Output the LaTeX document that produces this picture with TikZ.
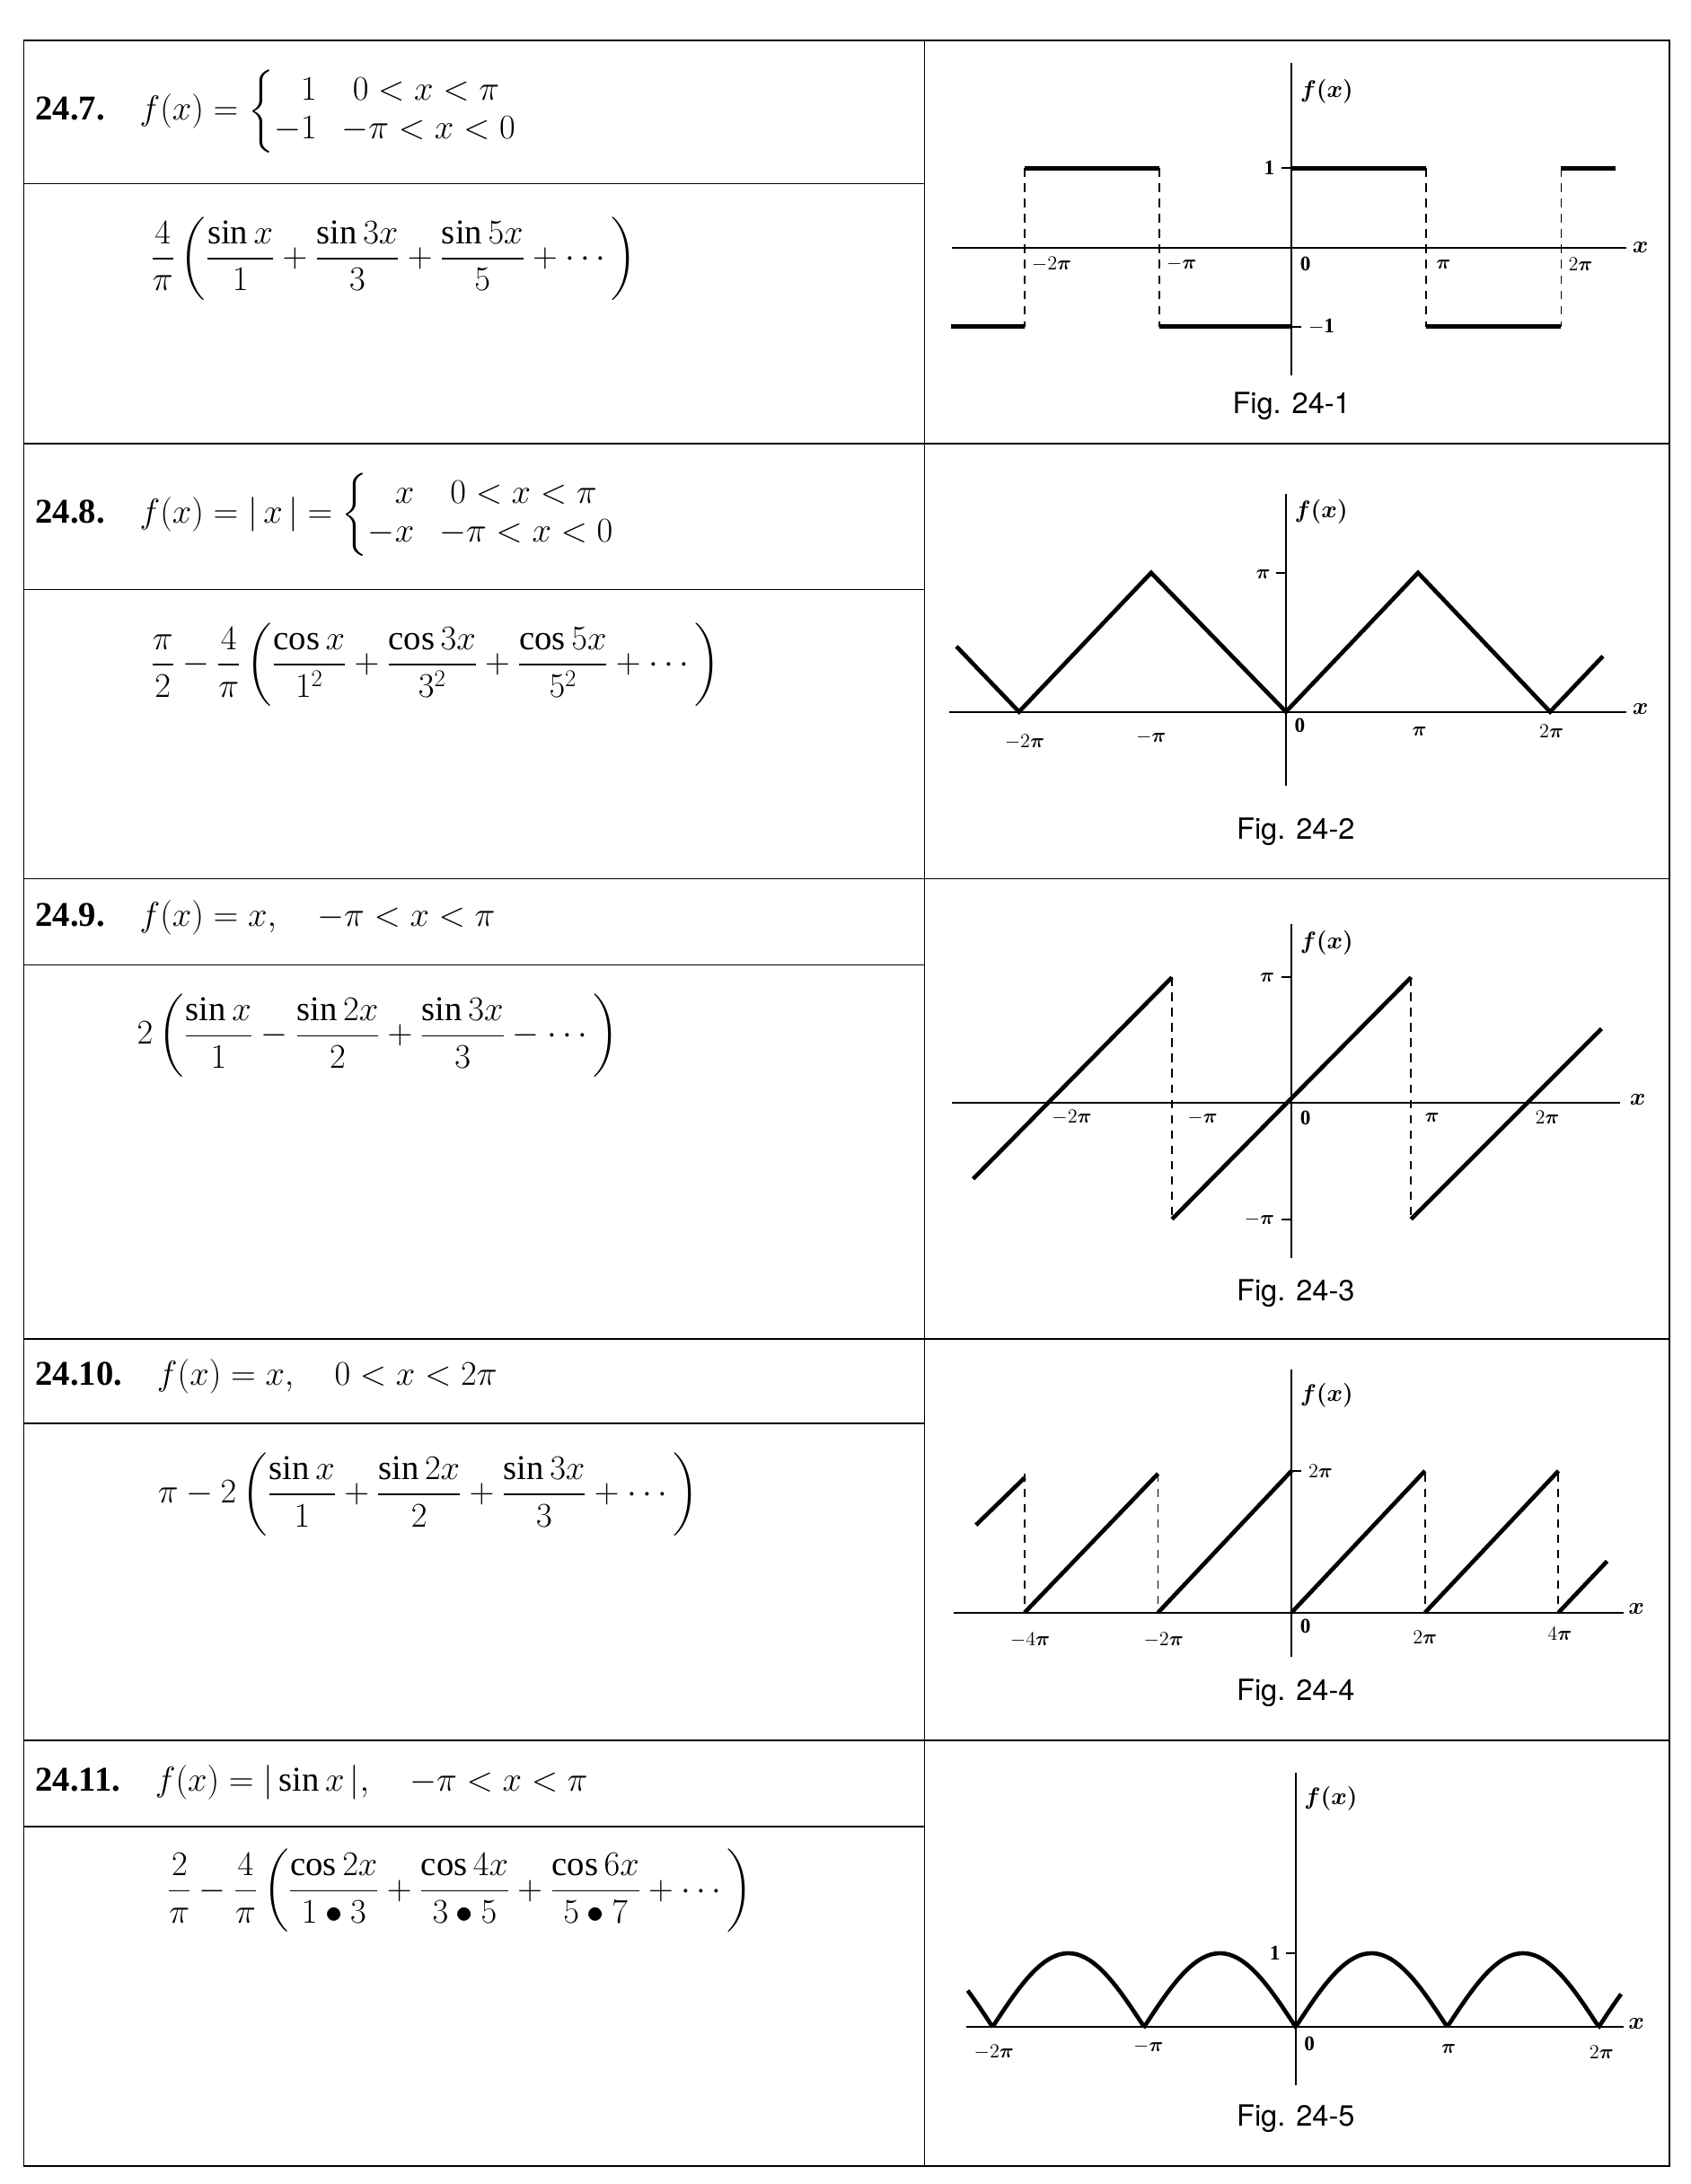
\documentclass[tikz,border=0pt]{standalone}
\usepackage{amsmath}
\usepackage{fontspec}
\setmainfont{Liberation Serif}
\newfontfamily\capfont{TeX Gyre Heros}
\begin{document}
\begin{tikzpicture}[x=1pt,y=-1pt,
  big/.style={font=\fontsize{25}{30}\selectfont},
  figcap/.style={font=\capfont\fontsize{21}{24}\selectfont},
  lab/.style={font=\bfseries\fontsize{15}{16}\selectfont,inner sep=1pt},
  flab/.style={font=\fontsize{19}{20}\selectfont,inner sep=1pt},
  curve/.style={line width=3pt},
  ax/.style={line width=1.3pt},
  dsh/.style={dashed,line width=1.2pt,dash pattern=on 6pt off 5pt}]
\useasboundingbox (0,0) rectangle (1216,1571);
% grid
\draw[line width=1pt] (17,29) rectangle (1201,1558);
\draw[line width=1pt] (665,29)--(665,1558);
\foreach \y in {319,632,963,1252} \draw[line width=1pt] (17,\y)--(1201,\y);
\foreach \y in {132,424,694,1024,1314} \draw[line width=1pt] (17,\y)--(665,\y);
% row 1
\node[big,anchor=west] (t1) at (22,80) {\textbf{24.7.}\quad $f(x)=\left\{\begin{array}{@{}l@{\hspace{18pt}}r@{}}\phantom{-}1 & 0<x<\pi\phantom{0}\\[-2pt] -1 & -\pi<x<0\end{array}\right.$};
\node[big,anchor=west] (s1) at (105,186) {$\displaystyle \frac{4}{\pi}\left(\frac{\sin x}{1}+\frac{\sin 3x}{3}+\frac{\sin 5x}{5}+\cdots\right)$};
% row 2
\node[big,anchor=west] (t2) at (22,370) {\textbf{24.8.}\quad $f(x)=|\,x\,|=\left\{\begin{array}{@{}l@{\hspace{18pt}}r@{}}\phantom{-}x & 0<x<\pi\phantom{0}\\[-2pt] -x & -\pi<x<0\end{array}\right.$};
\node[big,anchor=west] (s2) at (105,478) {$\displaystyle \frac{\pi}{2}-\frac{4}{\pi}\left(\frac{\cos x}{1^2}+\frac{\cos 3x}{3^2}+\frac{\cos 5x}{5^2}+\cdots\right)$};
% row 3
\node[big,anchor=west] (t3) at (22,660) {\textbf{24.9.}\quad $f(x)=x,\quad -\pi<x<\pi$};
\node[big,anchor=west] (s3) at (95,745) {$\displaystyle 2\left(\frac{\sin x}{1}-\frac{\sin 2x}{2}+\frac{\sin 3x}{3}-\cdots\right)$};
% row 4
\node[big,anchor=west] (t4) at (22,990) {\textbf{24.10.}\quad $f(x)=x,\quad 0<x<2\pi$};
\node[big,anchor=west] (s4) at (110,1075) {$\displaystyle \pi-2\left(\frac{\sin x}{1}+\frac{\sin 2x}{2}+\frac{\sin 3x}{3}+\cdots\right)$};
% row 5
\node[big,anchor=west] (t5) at (22,1282) {\textbf{24.11.}\quad $f(x)=|\sin x\,|,\quad -\pi<x<\pi$};
\node[big,anchor=west] (s5) at (117,1360) {$\displaystyle \frac{2}{\pi}-\frac{4}{\pi}\left(\frac{\cos 2x}{1\bullet 3}+\frac{\cos 4x}{3\bullet 5}+\frac{\cos 6x}{5\bullet 7}+\cdots\right)$};

% ===== Fig 24-1
\draw[ax] (929,45)--(929,270); \draw[ax] (685,178)--(1170,178);
\node[flab,anchor=west] at (934,66) {$\boldsymbol{f(x)}$};
\node[flab] at (1180,178) {$\boldsymbol{x}$};
\draw[curve] (684,235)--(737,235) (737,121)--(834,121) (834,235)--(929,235) (929,121)--(1026,121) (1026,235)--(1123,235) (1123,121)--(1162,121);
\foreach \x in {737,834,1026,1123} \draw[dsh] (\x,121)--(\x,235);
\draw[ax] (922,121)--(929,121) (929,235)--(936,235);
\node[lab,anchor=east] at (918,121) {1};
\node[lab,anchor=west] at (940,235) {$-$1};
\node[lab,anchor=west] at (934,190) {0};
\node[lab,anchor=west] at (741,190) {$-2\boldsymbol\pi$};
\node[lab,anchor=west] at (838,190) {$-\boldsymbol\pi$};
\node[lab,anchor=west] at (1032,190) {$\boldsymbol\pi$};
\node[lab,anchor=west] at (1127,190) {$2\boldsymbol\pi$};
\node[figcap] (c1) at (929,292) {Fig. 24-1};

% ===== Fig 24-2
\draw[ax] (925,355)--(925,565); \draw[ax] (683,512)--(1170,512);
\node[flab,anchor=west] at (930,368) {$\boldsymbol{f(x)}$};
\node[flab] at (1180,510) {$\boldsymbol{x}$};
\draw[curve] (688,465)--(733,512)--(828,412)--(925,512)--(1020,412)--(1115,512)--(1153,472);
\draw[ax] (918,412)--(925,412);
\node[lab,anchor=east] at (915,413) {$\boldsymbol\pi$};
\node[lab] at (737,534) {$-2\boldsymbol\pi$};
\node[lab] at (828,530) {$-\boldsymbol\pi$};
\node[lab,anchor=west] at (930,522) {0};
\node[lab] at (1021,526) {$\boldsymbol\pi$};
\node[lab] at (1116,526) {$2\boldsymbol\pi$};
\node[figcap] (c2) at (932,598) {Fig. 24-2};

% ===== Fig 24-3
\draw[ax] (929,665)--(929,905); \draw[ax] (685,793)--(1165,793);
\node[flab,anchor=west] at (934,678) {$\boldsymbol{f(x)}$};
\node[flab] at (1178,791) {$\boldsymbol{x}$};
\draw[curve] (700,848)--(843,703) (843,877)--(1015,703) (1015,877)--(1152,740);
\foreach \x in {843,1015} \draw[dsh] (\x,703)--(\x,877);
\draw[ax] (922,703)--(929,703) (922,877)--(929,877);
\node[lab,anchor=east] at (918,703) {$\boldsymbol\pi$};
\node[lab,anchor=east] at (918,877) {$-\boldsymbol\pi$};
\node[lab] at (771,804) {$-2\boldsymbol\pi$};
\node[lab] at (865,804) {$-\boldsymbol\pi$};
\node[lab,anchor=west] at (934,804) {0};
\node[lab] at (1030,804) {$\boldsymbol\pi$};
\node[lab] at (1113,804) {$2\boldsymbol\pi$};
\node[figcap] (c3) at (932,930) {Fig. 24-3};

% ===== Fig 24-4
\draw[ax] (929,985)--(929,1192); \draw[ax] (686,1160)--(1168,1160);
\node[flab,anchor=west] at (934,1004) {$\boldsymbol{f(x)}$};
\node[flab] at (1177,1157) {$\boldsymbol{x}$};
\draw[curve] (702,1097)--(737,1063) (737,1160)--(833,1060) (833,1160)--(929,1058) (929,1160)--(1025,1058) (1025,1160)--(1121,1058) (1121,1160)--(1156,1123);
\foreach \x in {737,833,1025,1121} \draw[dsh] (\x,1060)--(\x,1160);
\draw[ax] (929,1058)--(936,1058);
\node[lab,anchor=west] at (940,1058) {$2\boldsymbol\pi$};
\node[lab] at (741,1180) {$-4\boldsymbol\pi$};
\node[lab] at (837,1180) {$-2\boldsymbol\pi$};
\node[lab,anchor=west] at (934,1170) {0};
\node[lab] at (1025,1178) {$2\boldsymbol\pi$};
\node[lab] at (1122,1175) {$4\boldsymbol\pi$};
\node[figcap] (c4) at (932,1218) {Fig. 24-4};

% ===== Fig 24-5
\draw[ax] (932,1275)--(932,1500); \draw[ax] (695,1458)--(1168,1458);
\node[flab,anchor=west] at (937,1294) {$\boldsymbol{f(x)}$};
\node[flab] at (1177,1456) {$\boldsymbol{x}$};
\draw[curve,domain=-6.8:6.75,samples=300] plot ({932+\x*34.7},{1458-53*abs(sin(\x r))});
\draw[ax] (925,1405)--(932,1405);
\node[lab,anchor=east] at (922,1405) {1};
\node[lab] at (715,1476) {$-2\boldsymbol\pi$};
\node[lab] at (826,1472) {$-\boldsymbol\pi$};
\node[lab,anchor=west] at (937,1470) {0};
\node[lab] at (1042,1474) {$\boldsymbol\pi$};
\node[lab] at (1152,1476) {$2\boldsymbol\pi$};
\node[figcap] (c5) at (932,1524) {Fig. 24-5};
\end{tikzpicture}
\end{document}
